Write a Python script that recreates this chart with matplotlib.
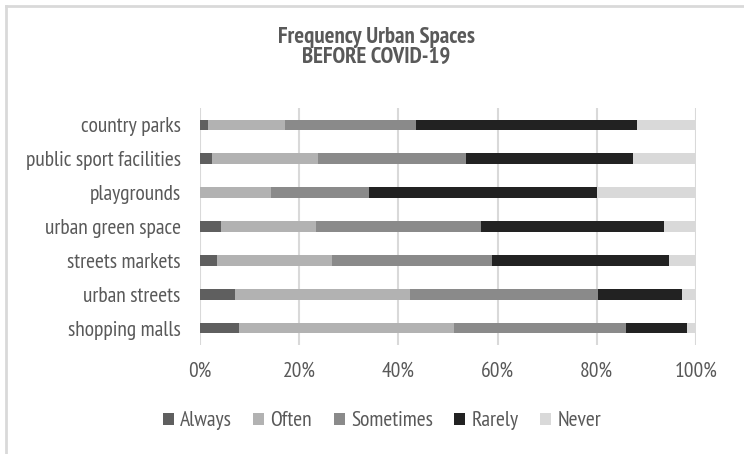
import numpy as np
import matplotlib
matplotlib.use("Agg")
import matplotlib.pyplot as plt
from matplotlib.lines import Line2D

# data (percent)
places = ['country parks', 'public sport facilities', 'playgrounds',
          'urban green space', 'streets markets', 'urban streets', 'shopping malls']
always    = [1.7, 2.5, 0.0, 4.3, 3.4, 7.1, 7.8]
often     = [15.5, 21.2, 14.4, 19.0, 23.3, 35.2, 43.5]
sometimes = [26.4, 30.0, 19.7, 33.4, 32.2, 37.9, 34.6]
rarely    = [44.5, 33.5, 45.9, 36.9, 35.7, 17.0, 12.3]
never     = [11.9, 12.8, 20.0, 6.4, 5.4, 2.8, 1.8]

series = ['Always', 'Often', 'Sometimes', 'Rarely', 'Never']
colors = ['#5f5f5f', '#b2b2b2', '#8a8a8a', '#222222', '#d9d9d9']
txt = '#595959'

plt.rcParams['font.family'] = ['PT Sans Narrow', 'Archivo Narrow', 'DejaVu Sans']

fig = plt.figure(figsize=(7.44, 4.54), dpi=100)
ax = fig.add_axes([200/744, 1-345/454, 496/744, 237/454])

y = np.arange(len(places))[::-1]
left = np.zeros(len(places))
for name, vals, c in zip(series, [always, often, sometimes, rarely, never], colors):
    vals = np.array(vals)
    ax.barh(y, vals, left=left, height=0.32, color=c, label=name, zorder=3)
    left += vals

ax.set_xlim(0, 100)
ax.set_ylim(-0.5, 6.5)
ax.set_xticks(np.arange(0, 101, 20))
ax.set_xticklabels(['%d%%' % v for v in range(0, 101, 20)])
ax.set_yticks(y)
ax.set_yticklabels(places)
ax.tick_params(axis='x', length=0, pad=12, labelsize=15.5, labelcolor=txt)
ax.tick_params(axis='y', length=0, pad=14, labelsize=15.5, labelcolor=txt)
for s in ax.spines.values():
    s.set_visible(False)
ax.grid(axis='x', color='#d9d9d9', linewidth=1.5, zorder=0)
ax.set_axisbelow(True)

# title, two lines
fig.text(376/744, 1-38/454, 'Frequency Urban Spaces', ha='center', va='center',
         fontsize=16.5, fontweight='bold', color=txt)
fig.text(376/744, 1-57/454, 'BEFORE COVID-19', ha='center', va='center',
         fontsize=16.5, fontweight='bold', color=txt)

h, l = ax.get_legend_handles_labels()
fig.legend(h, l, loc='center', bbox_to_anchor=(382/744, 1-421/454), ncol=5, frameon=False,
           fontsize=15.5, labelcolor=txt, handlelength=0.5, handleheight=0.5,
           handletextpad=0.3, columnspacing=1.0)

# chart border (top and left visible)
fig.add_artist(Line2D([6/744, 1], [1-6/454, 1-6/454], color='#d9d9d9', lw=2, transform=fig.transFigure))
fig.add_artist(Line2D([6/744, 6/744], [0, 1-6/454], color='#d9d9d9', lw=2, transform=fig.transFigure))

fig.savefig('out.png', dpi=100)
